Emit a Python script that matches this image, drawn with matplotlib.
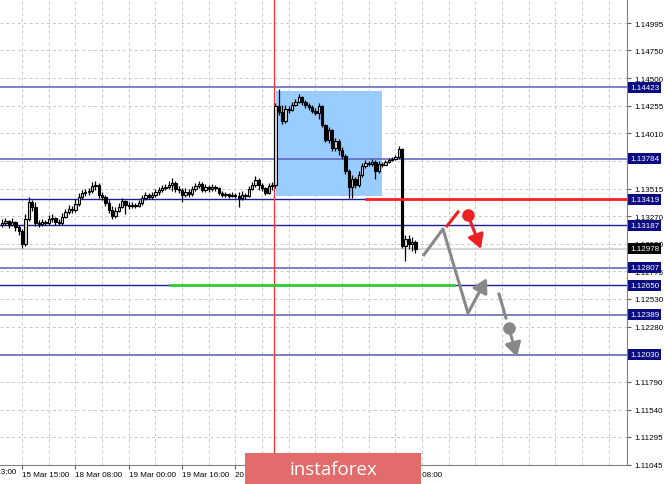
import numpy as np
import matplotlib
matplotlib.use("Agg")
import matplotlib.pyplot as plt
from matplotlib.patches import Rectangle
import matplotlib.transforms as mtransforms

plt.rcParams['font.family'] = ['Liberation Sans', 'DejaVu Sans']

# hourly EURUSD candles, hour index 0 = 15 Mar 15:00
first_open = 1.13190
closes = [1.13207, 1.13225, 1.13190, 1.13216, 1.13172, 1.13136, 1.13020, 1.13243, 1.13395, 1.13350,
          1.13207, 1.13199, 1.13216, 1.13207, 1.13243, 1.13252, 1.13216, 1.13207, 1.13261, 1.13306,
          1.13333, 1.13324, 1.13377, 1.13440, 1.13476, 1.13485, 1.13494, 1.13538, 1.13547, 1.13458,
          1.13440, 1.13386, 1.13324, 1.13270, 1.13315, 1.13350, 1.13404, 1.13368, 1.13359, 1.13368,
          1.13359, 1.13386, 1.13431, 1.13458, 1.13440, 1.13458, 1.13485, 1.13503, 1.13520, 1.13529,
          1.13547, 1.13565, 1.13511, 1.13503, 1.13458, 1.13485, 1.13467, 1.13511, 1.13538, 1.13556,
          1.13503, 1.13529, 1.13511, 1.13529, 1.13520, 1.13476, 1.13458, 1.13467, 1.13449, 1.13458,
          1.13449, 1.13431, 1.13458, 1.13449, 1.13511, 1.13547, 1.13592, 1.13547, 1.13520, 1.13476,
          1.13538, 1.13547, 1.14253, 1.14200, 1.14119, 1.14226, 1.14217, 1.14262, 1.14289, 1.14333,
          1.14289, 1.14262, 1.14244, 1.14209, 1.14191, 1.14253, 1.14083, 1.13949, 1.14039, 1.13878,
          1.13940, 1.13860, 1.13806, 1.13672, 1.13529, 1.13601, 1.13547, 1.13637, 1.13717, 1.13744,
          1.13735, 1.13753, 1.13672, 1.13735, 1.13726, 1.13753, 1.13771, 1.13780, 1.13797, 1.13869,
          1.13002, 1.13065, 1.13020, 1.13038, 1.12978]
highs = [1.13243, 1.13252, 1.13234, 1.13252, 1.13225, 1.13190, 1.13154, 1.13288, 1.13440, 1.13413,
         1.13395, 1.13234, 1.13243, 1.13234, 1.13279, 1.13288, 1.13261, 1.13243, 1.13297, 1.13333,
         1.13368, 1.13359, 1.13422, 1.13476, 1.13503, 1.13511, 1.13520, 1.13574, 1.13583, 1.13565,
         1.13485, 1.13458, 1.13413, 1.13359, 1.13350, 1.13386, 1.13431, 1.13413, 1.13395, 1.13395,
         1.13386, 1.13413, 1.13458, 1.13485, 1.13476, 1.13485, 1.13511, 1.13529, 1.13547, 1.13556,
         1.13583, 1.13610, 1.13583, 1.13538, 1.13520, 1.13520, 1.13511, 1.13538, 1.13565, 1.13583,
         1.13574, 1.13556, 1.13547, 1.13556, 1.13547, 1.13529, 1.13494, 1.13485, 1.13476, 1.13485,
         1.13476, 1.13485, 1.13494, 1.13476, 1.13538, 1.13574, 1.13628, 1.13610, 1.13565, 1.13529,
         1.13565, 1.13574, 1.14280, 1.14405, 1.14262, 1.14262, 1.14253, 1.14289, 1.14316, 1.14360,
         1.14342, 1.14307, 1.14280, 1.14262, 1.14235, 1.14280, 1.14262, 1.14092, 1.14066, 1.14048,
         1.13967, 1.13958, 1.13887, 1.13824, 1.13690, 1.13637, 1.13619, 1.13672, 1.13744, 1.13771,
         1.13762, 1.13780, 1.13771, 1.13762, 1.13753, 1.13771, 1.13789, 1.13797, 1.13815, 1.13896,
         1.13878, 1.13100, 1.13100, 1.13083, 1.13056]
lows = [1.13172, 1.13190, 1.13163, 1.13181, 1.13136, 1.13100, 1.12984, 1.13002, 1.13225, 1.13315,
        1.13181, 1.13172, 1.13181, 1.13190, 1.13190, 1.13216, 1.13190, 1.13190, 1.13190, 1.13252,
        1.13288, 1.13297, 1.13306, 1.13359, 1.13422, 1.13449, 1.13458, 1.13476, 1.13503, 1.13431,
        1.13413, 1.13359, 1.13297, 1.13243, 1.13252, 1.13306, 1.13341, 1.13288, 1.13333, 1.13341,
        1.13341, 1.13350, 1.13368, 1.13413, 1.13422, 1.13422, 1.13440, 1.13458, 1.13485, 1.13503,
        1.13511, 1.13494, 1.13485, 1.13476, 1.13395, 1.13440, 1.13440, 1.13449, 1.13494, 1.13520,
        1.13485, 1.13485, 1.13485, 1.13494, 1.13494, 1.13458, 1.13440, 1.13440, 1.13431, 1.13440,
        1.13431, 1.13350, 1.13413, 1.13422, 1.13440, 1.13503, 1.13529, 1.13503, 1.13494, 1.13458,
        1.13467, 1.13503, 1.13520, 1.14173, 1.14092, 1.14101, 1.14191, 1.14209, 1.14253, 1.14280,
        1.14262, 1.14235, 1.14217, 1.14191, 1.14173, 1.14137, 1.14066, 1.13931, 1.13922, 1.13851,
        1.13851, 1.13815, 1.13780, 1.13646, 1.13431, 1.13431, 1.13520, 1.13529, 1.13619, 1.13699,
        1.13717, 1.13717, 1.13601, 1.13655, 1.13708, 1.13726, 1.13744, 1.13762, 1.13771, 1.13780,
        1.12984, 1.12868, 1.12975, 1.12957, 1.12939]
hours = np.arange(-6, -6 + len(closes))
opens = [first_open] + closes[:-1]

# support / resistance levels
levels_dark = [1.13419, 1.13187, 1.12650]
levels_light = [1.14423, 1.13784, 1.12807, 1.12389, 1.12030]
level_labels = ["1.14423", "1.13784", "1.13419", "1.13187", "1.12807", "1.12650", "1.12389", "1.12030"]
bid = 1.12978

ytick_vals = [1.14995, 1.14750, 1.14500, 1.14255, 1.14010, 1.13765, 1.13515, 1.13270, 1.13020,
              1.12775, 1.12530, 1.12280, 1.12035, 1.11790, 1.11540, 1.11295, 1.11045]
hidden_ylabels = [1.13765, 1.12035]   # sit under the level tags
xtick_hours = [0, 16, 32, 48, 64, 80, 96, 112]
xtick_labels = ["15 Mar 15:00", "18 Mar 08:00", "19 Mar 00:00", "19 Mar 16:00",
                "20 Mar 08:00", "21 Mar 00:00", "21 Mar 16:00", "22 Mar 08:00"]
first_label = (-16, "14 Mar 23:00")

# forecast sketch
gray_path_x = [120.3, 126.3, 133.8]
gray_path_y = [1.12912, 1.13154, 1.12402]
gray_arrow_end = (139.5, 1.12715)
gray_dash_x = [143.1, 145.2]
gray_dash_y = [1.12572, 1.12358]
gray_dot = (146.1, 1.12268)
gray_dot_arrow_end = (148.5, 1.12009)
red_seg_x = [127.5, 130.8]
red_seg_y = [1.13181, 1.13306]
red_dot = (133.8, 1.13279)
red_arrow_end = (137.7, 1.12975)

XMIN, XMAX = -6.6, 181.5
YMIN, YMAX = 1.11044, 1.15210

fig = plt.figure(figsize=(6.65, 4.85), dpi=100)
ax = fig.add_axes([0, 19 / 485, 627 / 665, 466 / 485])

# grid
for v in ytick_vals:
    ax.axhline(v, color='#c8c8c8', lw=0.7, ls=(0, (3, 3)), zorder=0)
for hx in range(-8, 184, 8):
    ax.axvline(hx, color='#c8c8c8', lw=0.7, ls=(0, (3, 3)), zorder=0)

# blue box
ax.add_patch(Rectangle((76.2, 1.13449), 31.8, 1.14387 - 1.13449, facecolor='#99ccff', edgecolor='none', zorder=1))

# levels
for lv in levels_dark:
    ax.axhline(lv, color='#1e1e96', lw=1.0, zorder=2)
for lv in levels_light:
    ax.axhline(lv, color='#5c5cb8', lw=1.1, zorder=2)
ax.axhline(bid, color='#cfcfcf', lw=1.2, zorder=2)

ax.axvline(75.7, ymin=-0.02, color='#ff3030', lw=0.9, zorder=2, clip_on=False)

# candles
for x, o, h, l, c in zip(hours, opens, highs, lows, closes):
    ax.vlines(x, l, h, color='black', lw=0.9, zorder=3)
    bull = c >= o
    ax.bar(x, abs(c - o) if abs(c - o) > 0.00003 else 0.00003, width=0.7, bottom=min(o, c),
           color='#d8d8d8' if bull else 'black', edgecolor='black', linewidth=0.8, zorder=4)

ax.plot([103.2, XMAX], [1.13419, 1.13419], color='#ff2020', lw=2.0, zorder=5)
ax.plot([44.4, 129.6], [1.12650, 1.12650], color='#33cc33', lw=2.0, zorder=5)

# forecast drawing
gray = '#888888'
aprops = dict(arrowstyle='-|>,head_length=0.7,head_width=0.4', lw=2.2, shrinkA=0, shrinkB=0, mutation_scale=12)
ax.plot(gray_path_x, gray_path_y, color=gray, lw=2.2, solid_capstyle='butt', zorder=6)
ax.annotate('', xy=gray_arrow_end, xytext=(gray_path_x[-1], gray_path_y[-1]),
            arrowprops=dict(aprops, color=gray), zorder=6)
ax.plot(gray_dash_x, gray_dash_y, color=gray, lw=2.2, zorder=6)
ax.plot(*gray_dot, 'o', color=gray, ms=8, zorder=6)
ax.annotate('', xy=gray_dot_arrow_end, xytext=gray_dot, arrowprops=dict(aprops, color=gray), zorder=6)
red = '#ee2020'
ax.plot(red_seg_x, red_seg_y, color=red, lw=2.2, zorder=6)
ax.plot(*red_dot, 'o', color=red, ms=8, zorder=6)
ax.annotate('', xy=red_arrow_end, xytext=red_dot, arrowprops=dict(aprops, color=red), zorder=6)

# axes styling
for s in ['left', 'top']:
    ax.spines[s].set_visible(False)
ax.spines['right'].set_color('#808080')
ax.spines['bottom'].set_color('#808080')
ax.yaxis.tick_right()
ax.set_yticks(ytick_vals)
ax.set_yticklabels(["" if v in hidden_ylabels else f"{v:.5f}" for v in ytick_vals])
ax.tick_params(axis='y', labelsize=5.8, length=3, color='#606060', pad=2)
ax.set_xticks(xtick_hours)
ax.set_xticklabels(xtick_labels, ha='left')
ax.tick_params(axis='x', labelsize=5.8, length=3, color='#606060', pad=1)
ax.set_xlim(XMIN, XMAX)
ax.set_ylim(YMIN, YMAX)

# first time label, cut by the left edge
tb = mtransforms.blended_transform_factory(ax.transData, ax.transAxes)
ax.text(first_label[0], -0.0075, first_label[1], transform=tb, fontsize=5.8, ha='left', va='top', clip_on=False)

# price tags
trans = mtransforms.blended_transform_factory(ax.transAxes, ax.transData)
for lab in level_labels:
    ax.text(1.0 + 3 / 627, float(lab), lab, transform=trans, fontsize=5.8, color='white',
            va='center', ha='left', clip_on=False, zorder=10,
            bbox=dict(boxstyle='square,pad=0.25', facecolor='#0b0b82', edgecolor='none'))
ax.text(1.0 + 3 / 627, bid, f"{bid:.5f}", transform=trans, fontsize=5.8, color='white',
        va='center', ha='left', clip_on=False, zorder=10,
        bbox=dict(boxstyle='square,pad=0.25', facecolor='black', edgecolor='none'))

# logo
fig.patches.append(Rectangle((245 / 665, 0), 176 / 665, 31 / 485, transform=fig.transFigure,
                             facecolor='#e26b6b', edgecolor='none', zorder=20))
fig.text(333 / 665, 15 / 485, 'instaforex', color='white', fontsize=13.5, ha='center', va='center',
         family=['Open Sans', 'DejaVu Sans'], zorder=21)

fig.savefig('out.png', dpi=100)
